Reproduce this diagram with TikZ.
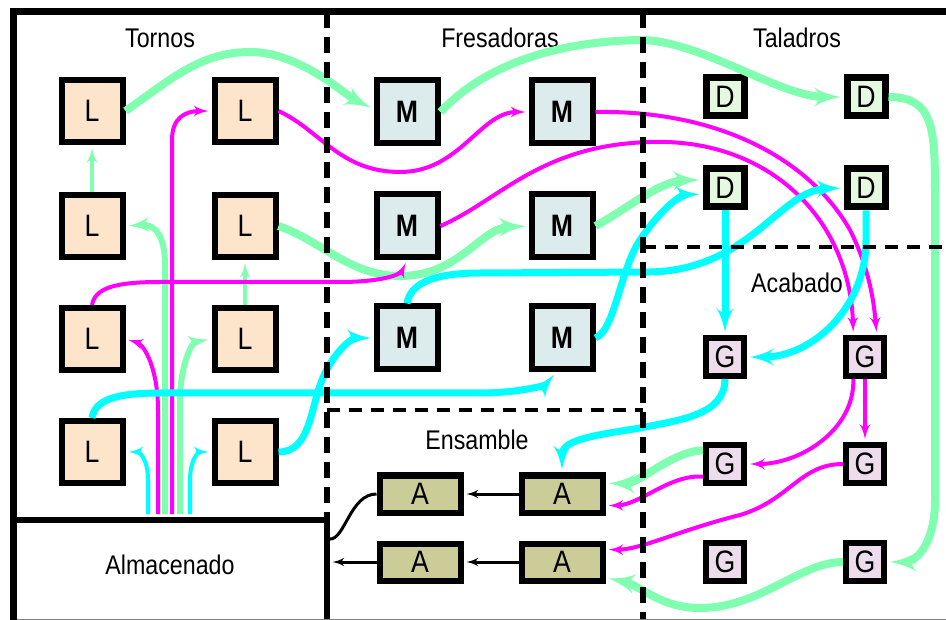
\documentclass[tikz,border=0pt]{standalone}
\usepackage{fontspec}
\setmainfont{Liberation Sans}[FakeStretch=0.86]
\usepackage{tikz}
\usetikzlibrary{arrows,shapes}
\definecolor{latheFill}{RGB}{253,229,204}
\definecolor{millFill}{RGB}{220,236,236}
\definecolor{drillFill}{RGB}{229,249,225}
\definecolor{grindFill}{RGB}{236,220,236}
\definecolor{assyFill}{RGB}{204,204,153}
\definecolor{mint}{RGB}{128,255,176}
\definecolor{pink}{RGB}{255,0,255}
\definecolor{aqua}{RGB}{0,255,255}
\newcommand{\boxfont}{\fontsize{31}{34}\selectfont}
\newcommand{\areafont}{\fontsize{27}{30}\selectfont}
\tikzstyle{machine} = [rectangle, draw, line width=6pt, inner sep=0pt, font=\boxfont]
\tikzstyle{lathe} = [machine, fill=latheFill, minimum width=61pt, minimum height=62pt]
\tikzstyle{mill} = [machine, fill=millFill, minimum width=61pt, minimum height=63pt, font=\boxfont\bfseries]
\tikzstyle{drill} = [machine, fill=drillFill, line width=7pt, minimum size=38pt]
\tikzstyle{grind} = [machine, fill=grindFill, minimum size=38pt]
\tikzstyle{assy} = [machine, fill=assyFill, minimum width=81pt, minimum height=37pt]
\tikzstyle{store} = [rectangle, draw, line width=6pt, fill=white, minimum width=313pt,
    minimum height=106pt, text height=19pt, text depth=17pt, font=\areafont]
\tikzstyle{areaLabel} = [font=\areafont]
\tikzstyle{flowG} = [draw, line width=8pt, color=mint, -latex', shorten >=3pt]
\tikzstyle{flowGthin} = [draw, line width=4pt, color=mint, -latex', shorten >=3pt]
\tikzstyle{flowM} = [draw, line width=4pt, color=pink, -latex', shorten >=3pt]
\tikzstyle{flowC} = [draw, line width=7pt, color=aqua, -latex', shorten >=3pt]
\tikzstyle{flowCthin} = [draw, line width=4pt, color=aqua, -latex', shorten >=3pt]
\tikzstyle{link} = [draw, line width=3pt, black, -latex', shorten >=3pt]
\tikzstyle{divider} = [draw, line width=6pt, dash pattern=on 16pt off 9pt]
\tikzstyle{dividerH} = [draw, line width=4pt, dash pattern=on 13pt off 9pt]

\begin{document}
\begin{tikzpicture}[x=1pt, y=-1pt, node distance=115pt]
    \useasboundingbox (0,0) rectangle (946,620);
    % Place nodes
    \node [store] (store) at (170,573) {Almacenado};
    \node [areaLabel] (tornos) at (160,38) {Tornos};
    \node [areaLabel] (fresadoras) at (500,38) {Fresadoras};
    \node [areaLabel] (taladros) at (797,38) {Taladros};
    \node [areaLabel] (acabado) at (797,283) {Acabado};
    \node [areaLabel] (ensamble) at (477,440) {Ensamble};

    \node [lathe] (L11) at (92,111) {L};
    \node [lathe, right of=L11, node distance=153pt] (L12) {L};
    \node [lathe, below of=L11] (L21) {L};
    \node [lathe, right of=L21, node distance=153pt] (L22) {L};
    \node [lathe, below of=L21, node distance=113pt] (L31) {L};
    \node [lathe, right of=L31, node distance=153pt] (L32) {L};
    \node [lathe, below of=L31, node distance=113pt] (L41) {L};
    \node [lathe, right of=L41, node distance=153pt] (L42) {L};

    \node [mill] (M11) at (407,112) {M};
    \node [mill, right of=M11, node distance=155pt] (M12) {M};
    \node [mill, below of=M11, node distance=114pt] (M21) {M};
    \node [mill, right of=M21, node distance=155pt] (M22) {M};
    \node [mill, below of=M21, node distance=112pt] (M31) {M};
    \node [mill, right of=M31, node distance=155pt] (M32) {M};

    \node [drill] (D11) at (725,97) {D};
    \node [drill, right of=D11, node distance=141pt] (D12) {D};
    \node [drill, below of=D11, node distance=91pt] (D21) {D};
    \node [drill, right of=D21, node distance=141pt] (D22) {D};

    \node [grind] (G11) at (725,357) {G};
    \node [grind, right of=G11, node distance=140pt] (G12) {G};
    \node [grind, below of=G11, node distance=107pt] (G21) {G};
    \node [grind, right of=G21, node distance=140pt] (G22) {G};
    \node [grind, below of=G21, node distance=98pt] (G31) {G};
    \node [grind, right of=G31, node distance=140pt] (G32) {G};

    \node [assy] (A11) at (420,494) {A};
    \node [assy, right of=A11, node distance=142pt] (A12) {A};
    \node [assy, below of=A11, node distance=68pt] (A21) {A};
    \node [assy, right of=A21, node distance=142pt] (A22) {A};

    % Draw edges
    % green route
    \path [flowG] (L11.east) .. controls (170,80) and (200,52) .. (250,52) .. controls (300,52) and (345,95) .. (M11.175);
    \path [flowG] (M11.east) .. controls (470,80) and (530,42) .. (640,40) .. controls (700,40) and (780,97) .. (D12.west);
    \path [flowG] (D12.east) .. controls (935,97) and (935,130) .. (935,200) -- (935,500) .. controls (935,545) and (915,562) .. (G32.east);
    \path [flowG] (G32.west) .. controls (800,562) and (760,608) .. (700,608) .. controls (660,608) and (640,585) .. (A22.-20);
    \path [flowG] (G21.148) .. controls (670,452) and (640,484) .. (A12.14);
    \path [flowGthin] (L21.north) -- (L11.south);
    \path [flowGthin] (L32.north) -- (L22.south);
    \path [flowG] (L22.east) .. controls (320,240) and (350,276) .. (400,276) .. controls (460,276) and (480,228) .. (M22.west);
    \path [flowG] (M22.east) .. controls (625,210) and (660,181) .. (D21.160);
    \path [flowG, line width=6pt, shorten <=3pt] ([xshift=-5pt]store.north) -- (165,265) .. controls (165,235) and (155,224) .. (L21.east);
    \path [flowG, line width=6pt, shorten <=3pt] ([xshift=10pt]store.north) -- (180,400) .. controls (180,370) and (190,343) .. (L32.west);

    % magenta route
    \path [flowM] (L12.east) .. controls (320,130) and (340,172) .. (400,172) .. controls (460,172) and (480,112) .. (M12.west);
    \path [flowM] (M12.east) .. controls (720,110) and (810,160) .. (850,230) .. controls (865,260) and (873,290) .. (G12.62);
    \path [flowM] (M21.east) .. controls (500,200) and (540,145) .. (650,142) .. controls (770,138) and (850,220) .. (G12.118);
    \path [flowM] (G12.south) -- (G22.north);
    \path [flowM] (G12.-118) .. controls (855,430) and (800,464) .. (G21.east);
    \path [flowM] (G21.-150) .. controls (670,474) and (640,505) .. (A12.-15);
    \path [flowM] (G22.west) .. controls (800,464) and (790,500) .. (740,515) .. controls (680,530) and (640,550) .. (A22.16);
    \path [flowM, shorten <=3pt] ([xshift=-12pt]store.north) -- (158,410) .. controls (158,370) and (145,345) .. (L31.east);
    \path [flowM, shorten <=3pt] ([xshift=2pt]store.north) -- (172,140) .. controls (172,118) and (185,111) .. (L12.west);
    \path [flowM] (L31.north) .. controls (95,288) and (115,282) .. (160,282) -- (340,282) .. controls (380,282) and (400,275) .. (M21.south);

    % cyan route
    \path [flowCthin, shorten <=3pt] ([xshift=-22pt]store.north) -- (148,480) .. controls (148,460) and (140,452) .. (L41.east);
    \path [flowCthin, shorten <=3pt] ([xshift=20pt]store.north) -- (190,480) .. controls (190,460) and (198,452) .. (L42.west);
    \path [flowC] (L41.north) .. controls (95,400) and (115,393) .. (160,393) -- (480,393) .. controls (520,393) and (545,385) .. (M32.-100);
    \path [flowC] (L42.east) .. controls (310,452) and (310,410) .. (322,380) .. controls (332,355) and (350,338) .. (M31.west);
    \path [flowC] (M31.north) .. controls (410,285) and (430,273) .. (480,273) -- (650,272) .. controls (750,270) and (780,190) .. (D22.west);
    \path [flowC] (M32.east) .. controls (615,330) and (620,270) .. (640,240) .. controls (660,210) and (680,195) .. (D21.-165);
    \path [flowC] (D21.south) -- (G11.north);
    \path [flowC] (D22.south) -- (866,240) .. controls (866,310) and (810,357) .. (G11.east);
    \path [flowC] (G11.south) .. controls (725,415) and (680,420) .. (640,428) .. controls (590,436) and (562,440) .. (A12.north);

    % assembly to storage
    \path [link] (A12.west) -- (A11.east);
    \path [link] (A22.west) -- (A21.east);
    \path [draw, line width=3pt] (A11.west) .. controls (350,494) and (345,540) .. (store.12);
    \path [link] (A21.west) -- (A21.west -| store.east);

    % area borders
    \path [divider] (326.5,12) -- (326.5,520);
    \path [divider] (643,12) -- (643,620);
    \path [dividerH] (326.5,410) -- (643,410);
    \path [dividerH] (643,247) -- (946,247);
    \draw [gray, line width=1pt] (13,619) -- (946,619);
    \draw [line width=7pt] (13,626) -- (13,12) -- (950,12);
\end{tikzpicture}
\end{document}
